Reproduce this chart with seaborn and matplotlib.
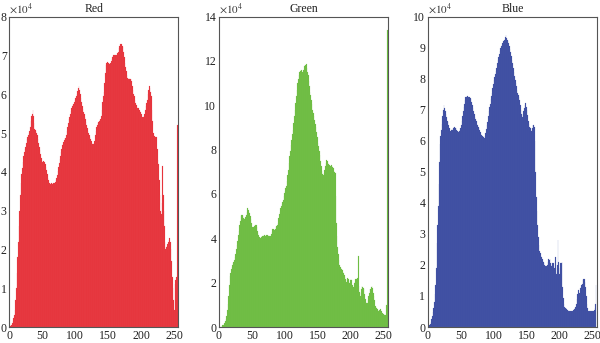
import numpy as np
import pandas as pd
import matplotlib
matplotlib.use("Agg")
import matplotlib.pyplot as plt
import seaborn as sns

# Pixel-intensity histograms of the three colour channels (counts in units of 1e4)
intensity = list(range(256))

red_counts = [
    0.0, 0.02, 0.04, 0.06, 0.1, 0.15, 0.22, 0.3, 0.45, 0.7,
    1.0, 1.4, 1.8, 2.2, 2.6, 3.0, 3.4, 3.7, 3.95, 4.1,
    4.25, 4.4, 4.5, 4.58, 4.65, 4.75, 4.85, 4.9, 4.95, 5.0,
    5.05, 5.15, 5.3, 5.45, 5.5, 5.6, 5.45, 5.25, 5.1, 5.08,
    5.05, 5.0, 4.95, 4.85, 4.75, 4.65, 4.55, 4.45, 4.35, 4.28,
    4.25, 4.28, 4.25, 4.25, 4.2, 4.12, 4.05, 3.95, 3.85, 3.78,
    3.72, 3.7, 3.68, 3.7, 3.7, 3.68, 3.7, 3.72, 3.72, 3.75,
    3.8, 3.85, 3.92, 4.02, 4.12, 4.22, 4.32, 4.42, 4.52, 4.6,
    4.68, 4.72, 4.78, 4.82, 4.86, 4.88, 4.95, 5.05, 5.15, 5.25,
    5.35, 5.42, 5.5, 5.58, 5.65, 5.7, 5.72, 5.75, 5.8, 5.85,
    5.9, 5.95, 6.0, 6.08, 6.15, 6.2, 6.1, 6.0, 5.9, 5.8,
    5.7, 5.62, 5.55, 5.48, 5.4, 5.35, 5.28, 5.2, 5.12, 5.05,
    5.0, 4.95, 4.9, 4.85, 4.8, 4.75, 4.72, 4.72, 4.75, 4.8,
    4.95, 5.05, 5.15, 5.2, 5.25, 5.28, 5.3, 5.33, 5.35, 5.45,
    5.6, 5.8, 5.95, 6.05, 6.3, 6.55, 6.75, 6.8, 6.82, 6.78,
    6.8, 6.78, 6.8, 6.8, 6.85, 6.9, 6.95, 6.98, 7.0, 7.0,
    7.0, 7.02, 7.0, 7.0, 7.05, 7.1, 7.18, 7.25, 7.3, 7.28,
    7.3, 7.25, 7.22, 7.1, 6.95, 6.8, 6.7, 6.6, 6.5, 6.42,
    6.4, 6.42, 6.4, 6.38, 6.4, 6.35, 6.2, 6.1, 6.0, 5.95,
    5.85, 5.78, 5.72, 5.68, 5.65, 5.62, 5.65, 5.6, 5.58, 5.55,
    5.5, 5.42, 5.4, 5.42, 5.45, 5.5, 5.6, 5.7, 5.78, 5.85,
    6.0, 6.1, 6.2, 6.15, 6.05, 5.95, 5.6, 5.3, 5.0, 4.9,
    4.92, 4.9, 4.88, 4.9, 4.6, 4.3, 4.2, 3.8, 3.4, 3.0,
    2.9, 3.2, 4.15, 3.4, 3.0, 2.6, 2.2, 2.0, 2.05, 2.1,
    2.15, 2.2, 2.25, 2.3, 2.2, 2.0, 1.7, 1.3, 1.0, 0.7,
    0.43, 1.1, 1.2, 1.3, 1.3, 5.2,
]

green_counts = [
    0.0, 0.0, 0.01, 0.02, 0.04, 0.07, 0.1, 0.15, 0.2, 0.28,
    0.35, 0.5, 0.75, 1.05, 1.4, 1.9, 2.3, 2.45, 2.6, 2.7,
    2.8, 2.88, 2.95, 3.0, 3.15, 3.3, 3.5, 3.7, 3.9, 4.15,
    4.35, 4.6, 4.8, 5.0, 5.05, 5.05, 5.0, 4.9, 4.85, 4.9,
    4.95, 5.05, 5.2, 5.35, 5.3, 5.2, 5.15, 5.0, 4.85, 4.7,
    4.5, 4.4, 4.5, 4.55, 4.6, 4.6, 4.6, 4.5, 4.35, 4.25,
    4.15, 4.05, 4.0, 4.02, 4.05, 4.1, 4.1, 4.12, 4.15, 4.15,
    4.12, 4.15, 4.13, 4.15, 4.15, 4.12, 4.1, 4.1, 4.12, 4.2,
    4.3, 4.4, 4.42, 4.4, 4.38, 4.4, 4.5, 4.55, 4.62, 4.7,
    4.9, 5.1, 5.2, 5.35, 5.45, 5.55, 5.65, 5.75, 5.9, 6.05,
    6.15, 6.25, 6.35, 6.6, 6.85, 7.1, 7.4, 7.7, 7.95, 8.2,
    8.45, 8.7, 8.9, 9.2, 9.5, 9.8, 10.1, 10.4, 10.7, 11.0,
    11.2, 11.35, 11.5, 11.55, 11.6, 11.58, 11.5, 11.5, 11.6, 11.75,
    11.8, 11.82, 11.85, 11.7, 11.5, 11.35, 11.1, 10.85, 10.6, 10.45,
    10.25, 10.05, 9.8, 9.65, 9.5, 9.35, 9.15, 9.0, 8.8, 8.55,
    8.3, 8.15, 7.95, 7.75, 7.5, 7.25, 7.05, 6.9, 6.85, 6.95,
    7.1, 7.25, 7.4, 7.55, 7.5, 7.4, 7.35, 7.3, 7.25, 7.28,
    7.3, 7.28, 7.2, 7.15, 7.05, 6.98, 6.95, 5.9, 4.7, 4.1,
    3.6, 3.3, 3.0, 2.8, 2.72, 2.65, 2.6, 2.55, 2.5, 2.42,
    2.35, 2.25, 2.15, 2.05, 2.1, 2.2, 2.15, 2.05, 2.0, 2.1,
    2.15, 2.1, 1.9, 1.7, 1.8, 2.0, 2.05, 2.15, 2.15, 2.05,
    2.2, 3.2, 1.85, 1.6, 1.4, 1.55, 1.7, 1.85, 1.8, 1.75,
    1.7, 1.5, 1.25, 1.15, 1.1, 1.1, 1.2, 1.4, 1.55, 1.7,
    1.7, 1.8, 1.85, 1.75, 1.55, 1.4, 1.2, 0.95, 0.9, 0.85,
    0.8, 0.75, 0.72, 0.75, 0.78, 0.8, 0.7, 0.65, 0.62, 0.6,
    0.57, 0.55, 0.52, 0.5, 1.0, 13.4,
]

blue_counts = [
    0.0, 0.02, 0.05, 0.1, 0.17, 0.25, 0.35, 0.47, 0.6, 0.8,
    1.05, 1.35, 1.9, 2.7, 3.3, 3.9, 4.6, 5.3, 5.9, 6.15,
    6.35, 6.55, 6.8, 7.0, 7.15, 7.05, 6.95, 6.85, 6.75, 6.65,
    6.6, 6.5, 6.4, 6.32, 6.3, 6.35, 6.38, 6.35, 6.4, 6.45,
    6.45, 6.42, 6.4, 6.35, 6.3, 6.3, 6.28, 6.3, 6.35, 6.42,
    6.5, 6.65, 6.8, 6.95, 7.1, 7.2, 7.3, 7.4, 7.42, 7.45,
    7.45, 7.42, 7.4, 7.42, 7.38, 7.35, 7.25, 7.15, 7.05, 6.95,
    6.85, 6.78, 6.7, 6.65, 6.55, 6.5, 6.45, 6.4, 6.35, 6.28,
    6.22, 6.2, 6.15, 6.15, 6.12, 6.1, 6.15, 6.25, 6.38, 6.5,
    6.62, 6.8, 6.95, 7.1, 7.2, 7.35, 7.45, 7.55, 7.7, 7.82,
    7.95, 8.05, 8.15, 8.25, 8.35, 8.5, 8.6, 8.7, 8.8, 8.9,
    8.98, 9.05, 9.1, 9.15, 9.2, 9.22, 9.25, 9.35, 9.4, 9.3,
    9.25, 9.2, 9.15, 9.05, 8.95, 8.85, 8.72, 8.6, 8.5, 8.35,
    8.2, 8.08, 7.95, 7.85, 7.75, 7.65, 7.55, 7.48, 7.4, 7.3,
    7.15, 7.0, 6.85, 6.75, 6.85, 6.95, 7.05, 7.15, 7.22, 7.1,
    7.0, 6.82, 6.65, 6.55, 6.45, 6.4, 6.35, 6.3, 6.4, 6.5,
    6.5, 6.45, 6.0, 5.0, 4.2, 3.75, 3.3, 2.9, 2.65, 2.45,
    2.38, 2.3, 2.25, 2.2, 2.12, 2.08, 2.05, 2.0, 1.98, 1.95,
    1.95, 2.0, 2.1, 2.2, 2.15, 2.2, 2.05, 1.95, 2.0, 2.05,
    2.05, 1.75, 1.9, 2.25, 1.9, 1.7, 2.0, 2.8, 2.1, 1.7,
    1.9, 2.05, 2.05, 2.1, 1.3, 0.95, 0.75, 0.65, 0.6, 0.6,
    0.58, 0.55, 0.55, 0.52, 0.5, 0.5, 0.5, 0.5, 0.5, 0.5,
    0.52, 0.55, 0.58, 0.6, 0.65, 0.75, 0.9, 1.05, 1.2, 1.1,
    1.1, 1.25, 1.3, 1.35, 1.4, 1.5, 1.55, 1.55, 1.45, 1.3,
    1.0, 0.75, 0.6, 0.5, 0.5, 0.52, 0.5, 0.5, 0.5, 0.5,
    0.5, 0.52, 0.55, 0.6, 0.75, 1.35,
]

channel_names = ["Red", "Green", "Blue"]
channel_colors = ["#E62F37", "#6BBC3F", "#3C4CA2"]
edge_colors = ["#EC5058", "#80C55A", "#5463AE"]
y_limits = [8, 14, 10]
y_steps = [1, 2, 1]
x_ticks = [0, 50, 100, 150, 200, 250]

sns.set_style("white")
plt.rcParams["font.family"] = ["Liberation Serif", "DejaVu Serif"]
plt.rcParams["mathtext.fontset"] = "stix"

fig = plt.figure(figsize=(6.0, 3.43), dpi=100)
lefts = [0.0158, 0.365, 0.7133]
axes = [fig.add_axes([l, 0.0466, 0.2815, 0.905]) for l in lefts]

counts_by_channel = [red_counts, green_counts, blue_counts]
for ax, name, counts, color, edge, ymax, ystep in zip(
    axes, channel_names, counts_by_channel, channel_colors, edge_colors, y_limits, y_steps
):
    df = pd.DataFrame({"intensity": intensity, "count": counts})
    sns.histplot(
        data=df, x="intensity", weights="count",
        bins=256, binrange=(0, 256),
        color=color, edgecolor=edge, linewidth=0.12, alpha=1.0,
        ax=ax,
    )
    ax.set_xlim(0, 256.6)
    ax.set_ylim(0, ymax)
    ax.set_xticks(x_ticks)
    ax.set_yticks(np.arange(0, ymax + 0.01, ystep))
    ax.set_yticklabels([f"{int(v)}" for v in np.arange(0, ymax + 0.01, ystep)])
    ax.set_xlabel("")
    ax.set_ylabel("")
    ax.tick_params(axis="both", direction="in", length=3, width=0.6,
                   labelsize=8.5, pad=2, colors="#333333", labelcolor="#222222")
    ax.tick_params(top=False, right=False)
    for sp in ax.spines.values():
        sp.set_color("#555555")
        sp.set_linewidth(0.8)
    ax.set_title(name, fontsize=8.5, pad=3, color="#222222")
    ax.text(0.0, 1.003, r"$\times10^4$", transform=ax.transAxes,
            ha="left", va="bottom", fontsize=8, color="#333333")

fig.savefig("out.png", dpi=100)
